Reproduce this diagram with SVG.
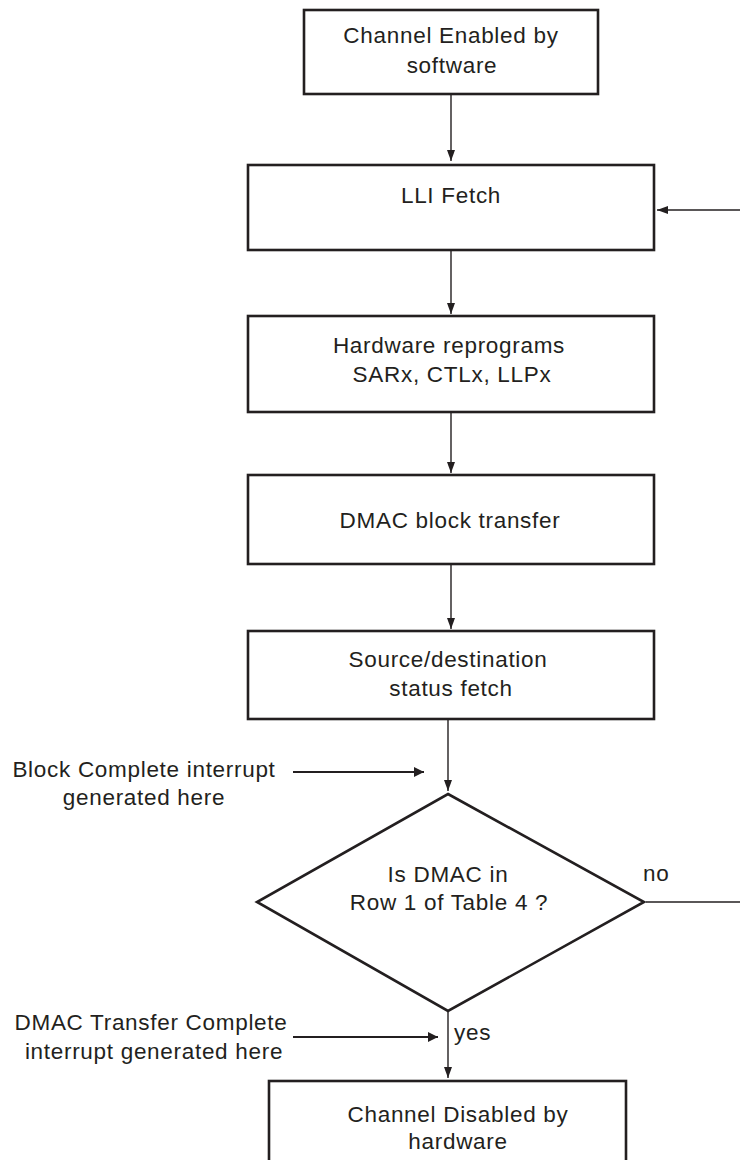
<svg xmlns="http://www.w3.org/2000/svg" width="740" height="1160" viewBox="0 0 740 1160">
<style>
  .box{fill:#fff;stroke:#231f20;stroke-width:2.6}
  .dia{fill:#fff;stroke:#231f20;stroke-width:2.6;stroke-linejoin:miter}
  .t{font-family:"Liberation Sans",Arial,sans-serif;font-size:22.5px;letter-spacing:0.7px;fill:#231f20}
  .m{text-anchor:middle}
  .ln{fill:none;stroke:#231f20;stroke-width:1.4}
  .pt{fill:none;stroke:#231f20;stroke-width:2.2}
</style>
<defs>
  <marker id="ah" markerUnits="userSpaceOnUse" markerWidth="12" markerHeight="10" refX="11" refY="4" orient="auto">
    <path d="M0,0 L11,4 L0,8 z" fill="#231f20"/>
  </marker>
  <marker id="ahb" markerUnits="userSpaceOnUse" markerWidth="12" markerHeight="12" refX="10" refY="5" orient="auto">
    <path d="M0,0 L10,5 L0,10 z" fill="#231f20"/>
  </marker>
</defs>
<rect width="740" height="1160" fill="#fff"/>
<g id="connectors">
  <line class="ln" x1="451" y1="94" x2="451" y2="161" marker-end="url(#ah)"/>
  <line class="ln" x1="451" y1="250" x2="451" y2="314" marker-end="url(#ah)"/>
  <line class="ln" x1="451" y1="412" x2="451" y2="473" marker-end="url(#ah)"/>
  <line class="ln" x1="451" y1="564" x2="451" y2="629" marker-end="url(#ah)"/>
  <line class="ln" x1="448" y1="719" x2="448" y2="791" marker-end="url(#ah)"/>
  <line class="ln" x1="448" y1="1011" x2="448" y2="1078" marker-end="url(#ah)"/>
  <line class="ln" x1="740" y1="210" x2="657" y2="210" marker-end="url(#ah)"/>
  <line class="ln" x1="646" y1="902" x2="740" y2="902"/>
  <line class="pt" x1="293" y1="772" x2="424" y2="772" marker-end="url(#ahb)"/>
  <line class="pt" x1="293" y1="1037" x2="438" y2="1037" marker-end="url(#ahb)"/>
  <text class="t" x="643" y="881">no</text>
  <text class="t" x="454" y="1040">yes</text>
</g>
<g id="n-enabled">
  <rect class="box" x="304" y="10" width="294" height="84"/>
  <text class="t m" x="451" y="43">Channel Enabled by</text>
  <text class="t m" x="452" y="73">software</text>
</g>
<g id="n-lli">
  <rect class="box" x="248" y="165" width="406" height="85"/>
  <text class="t m" x="451" y="203">LLI Fetch</text>
</g>
<g id="n-reprog">
  <rect class="box" x="248" y="316" width="406" height="96"/>
  <text class="t m" x="449" y="353">Hardware reprograms</text>
  <text class="t m" x="452" y="382">SARx, CTLx, LLPx</text>
</g>
<g id="n-block">
  <rect class="box" x="248" y="475" width="406" height="89"/>
  <text class="t m" x="450" y="528">DMAC block transfer</text>
</g>
<g id="n-status">
  <rect class="box" x="248" y="631" width="406" height="88"/>
  <text class="t m" x="448" y="667">Source/destination</text>
  <text class="t m" x="451" y="696">status fetch</text>
</g>
<g id="n-decision">
  <polygon class="dia" points="448,794 644,902 448,1011 257,902"/>
  <text class="t m" x="448" y="882">Is DMAC in</text>
  <text class="t m" x="449" y="910">Row 1 of Table 4 ?</text>
</g>
<g id="n-disabled">
  <rect class="box" x="269" y="1081" width="357" height="100"/>
  <text class="t m" x="458" y="1122">Channel Disabled by</text>
  <text class="t m" x="458" y="1149">hardware</text>
</g>
<g id="lbl-block">
  <text class="t m" x="144" y="777">Block Complete interrupt</text>
  <text class="t m" x="144" y="805">generated here</text>
</g>
<g id="lbl-transfer">
  <text class="t m" x="151" y="1030">DMAC Transfer Complete</text>
  <text class="t m" x="154" y="1059">interrupt generated here</text>
</g>
</svg>
